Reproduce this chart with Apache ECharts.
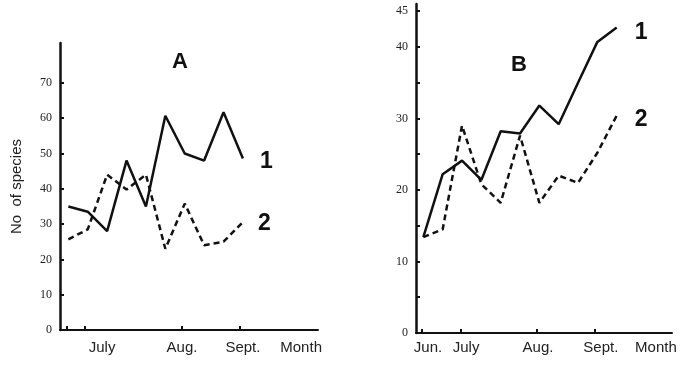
<!DOCTYPE html>
<html>
<head>
<meta charset="utf-8">
<script src="https://cdn.jsdelivr.net/npm/echarts@6/dist/echarts.min.js"></script>
<style>html,body{margin:0;padding:0;background:#fff;}#c{width:683px;height:367px;}</style>
</head>
<body>
<div id="c"></div>
<script>
// Panel A data (sampling index along the season)
const idxA = [0, 1, 2, 3, 4, 5, 6, 7, 8, 9];
const seriesA1 = [35, 33.5, 28, 48, 35, 60.7, 50, 48, 61.7, 48.6];
const seriesA2 = [25.7, 28.5, 44, 39.8, 44, 23, 35.8, 24, 25, 30.6];
// Panel B data
const idxB = [0, 1, 2, 3, 4, 5, 6, 7, 8, 9, 10];
const seriesB1 = [13.4, 22.2, 24.1, 21.4, 28.2, 27.9, 31.8, 29.2, 35, 40.7, 42.7];
const seriesB2 = [13.4, 14.5, 29, 20.8, 18.2, 27.6, 18.2, 22, 21, 25.2, 30.4];
// Axis labels
const monthLabelsA = ['July', 'Aug.', 'Sept.', 'Month'];
const monthLabelsB = ['Jun.', 'July', 'Aug.', 'Sept.', 'Month'];
const yTicksA = [0, 10, 20, 30, 40, 50, 60, 70];
const yTicksB = [0, 5, 10, 15, 20, 25, 30, 35, 40, 45];
const yLabelsB = [0, 10, 20, 30, 40, 45];
const seriesNames = ['1', '2'];
const panelNames = ['A', 'B'];

// axis layout positions (in index units)
const labelPosA = [1.74, 5.86, 9.0, 12.0];
const tickPosA = [-0.08, 0.86, 5.85, 8.85];
const labelPosB = [0.24, 2.21, 5.93, 9.18, 12.03];
const tickPosB = [-0.08, 1.95, 5.86, 8.87];

function pickLabel(pos, labels) {
  return function (v) {
    for (let i = 0; i < pos.length; i++) if (Math.abs(pos[i] - v) < 1e-6) return labels[i];
    return '';
  };
}

const black = '#111';
const chart = echarts.init(document.getElementById('c'));

function xAxisDef(gi, min, max, tickPos, labelPos, labels, margin) {
  return {
    type: 'value', gridIndex: gi, min: min, max: max,
    splitLine: { show: false },
    axisLine: { show: true, onZero: false, lineStyle: { color: black, width: 2 } },
    axisTick: { show: true, inside: true, length: 4, customValues: tickPos, lineStyle: { color: black, width: 2 } },
    axisLabel: { customValues: labelPos, formatter: pickLabel(labelPos, labels), margin: margin,
      fontFamily: 'Liberation Sans, Arial, sans-serif', fontSize: 15, color: '#222' }
  };
}

const lineBase = { type: 'line', showSymbol: false, symbol: 'none', smooth: false, silent: true };

chart.setOption({
  animation: false,
  backgroundColor: '#fff',
  grid: [
    { left: 60, top: 43, width: 258, bottom: 37 },
    { left: 416, top: 4, width: 256, bottom: 34 }
  ],
  xAxis: [
    xAxisDef(0, -0.43, 12.87, tickPosA, labelPosA, monthLabelsA, 10),
    xAxisDef(1, -0.38, 12.86, tickPosB, labelPosB, monthLabelsB, 7)
  ],
  yAxis: [
    {
      type: 'value', gridIndex: 0, min: 0, max: 81.3,
      name: 'No  of species', nameLocation: 'middle', nameRotate: 90, nameGap: 36,
      nameTextStyle: { fontFamily: 'Liberation Sans, Arial, sans-serif', fontSize: 15, color: '#222' },
      splitLine: { show: false },
      axisLine: { show: true, onZero: false, lineStyle: { color: black, width: 2.5 } },
      axisTick: { show: true, inside: true, length: 4, customValues: yTicksA, lineStyle: { color: black, width: 2 } },
      axisLabel: { customValues: yTicksA, margin: 8, fontFamily: 'Liberation Serif, Times New Roman, serif', fontSize: 12, color: '#222' }
    },
    {
      type: 'value', gridIndex: 1, min: 0, max: 46,
      splitLine: { show: false },
      axisLine: { show: true, onZero: false, lineStyle: { color: black, width: 2.5 } },
      axisTick: { show: true, inside: true, length: 4, customValues: yTicksB, lineStyle: { color: black, width: 2 } },
      axisLabel: { customValues: yLabelsB, margin: 8, fontFamily: 'Liberation Serif, Times New Roman, serif', fontSize: 12, color: '#222' }
    }
  ],
  series: [
    Object.assign({}, lineBase, {
      xAxisIndex: 0, yAxisIndex: 0,
      data: idxA.map((x, i) => [x, seriesA1[i]]),
      lineStyle: { color: black, width: 2.5, type: 'solid' },
      endLabel: { show: true, formatter: seriesNames[0], distance: 17, offset: [0, 3],
        fontFamily: 'Liberation Sans, Arial, sans-serif', fontWeight: 'bold', fontSize: 23, color: black }
    }),
    Object.assign({}, lineBase, {
      xAxisIndex: 0, yAxisIndex: 0,
      data: idxA.map((x, i) => [x, seriesA2[i]]),
      lineStyle: { color: black, width: 2.5, type: [6, 4] },
      endLabel: { show: true, formatter: seriesNames[1], distance: 15, offset: [0, 2],
        fontFamily: 'Liberation Sans, Arial, sans-serif', fontWeight: 'bold', fontSize: 23, color: black }
    }),
    Object.assign({}, lineBase, {
      xAxisIndex: 1, yAxisIndex: 1,
      data: idxB.map((x, i) => [x, seriesB1[i]]),
      lineStyle: { color: black, width: 2.5, type: 'solid' },
      endLabel: { show: true, formatter: seriesNames[0], distance: 18, offset: [0, 5],
        fontFamily: 'Liberation Sans, Arial, sans-serif', fontWeight: 'bold', fontSize: 23, color: black }
    }),
    Object.assign({}, lineBase, {
      xAxisIndex: 1, yAxisIndex: 1,
      data: idxB.map((x, i) => [x, seriesB2[i]]),
      lineStyle: { color: black, width: 2.5, type: [6, 4] },
      endLabel: { show: true, formatter: seriesNames[1], distance: 18, offset: [0, 4],
        fontFamily: 'Liberation Sans, Arial, sans-serif', fontWeight: 'bold', fontSize: 23, color: black }
    })
  ],
  graphic: [
    { type: 'text', left: 172, top: 51, style: { text: panelNames[0],
      font: 'bold 22px "Liberation Sans", Arial, sans-serif', fill: black } },
    { type: 'text', left: 511, top: 54, style: { text: panelNames[1],
      font: 'bold 22px "Liberation Sans", Arial, sans-serif', fill: black } }
  ]
});
</script>
</body>
</html>
